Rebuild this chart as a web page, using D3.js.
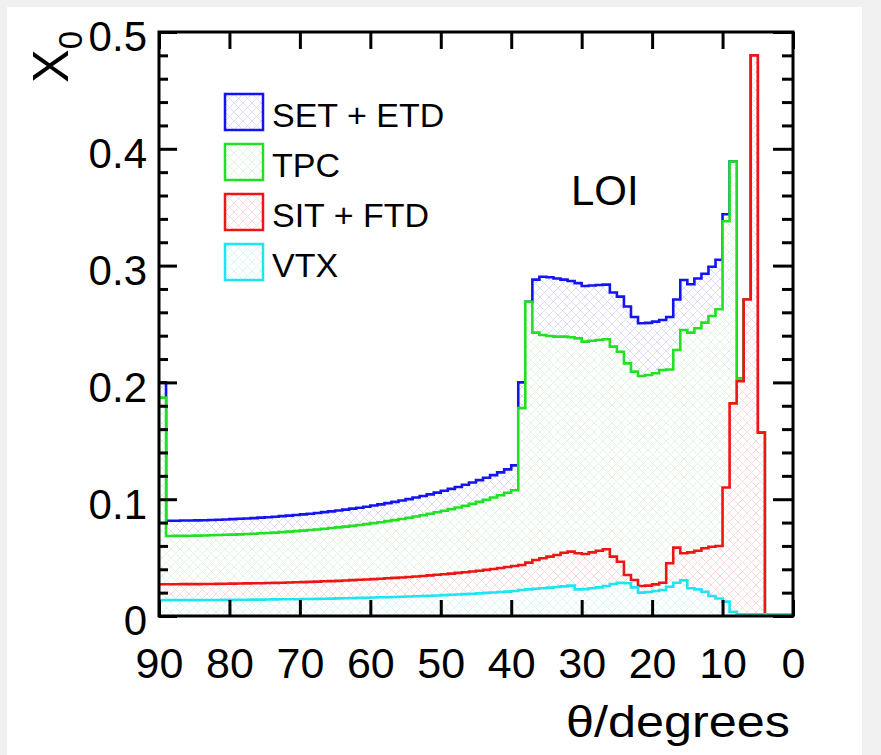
<!DOCTYPE html>
<html>
<head>
<meta charset="utf-8">
<script src="https://cdn.jsdelivr.net/npm/d3@7"></script>
<style>
  body { margin: 0; background: #f0f0f0; }
  svg { display: block; font-family: "Liberation Sans", Arial, sans-serif; }
</style>
</head>
<body>
<script>
// bins are 1 degree wide; list goes from the 89-90 bin (left) to the 0-1 bin (right)
const binLow = d3.range(89, -1, -1);

// cumulative X0 per detector group
const setEtd = [
  0.200, 0.0815, 0.0816, 0.0817, 0.0818, 0.0819, 0.0820, 0.0822, 0.0824, 0.0826,
  0.0829, 0.0832, 0.0835, 0.0838, 0.0842, 0.0846, 0.0850, 0.0855, 0.0859, 0.0865,
  0.0870, 0.0876, 0.0882, 0.0889, 0.0896, 0.0903, 0.0911, 0.0919, 0.0927, 0.0936,
  0.0946, 0.0956, 0.0966, 0.0977, 0.0989, 0.1001, 0.1014, 0.1027, 0.1041, 0.1056,
  0.1072, 0.1088, 0.1105, 0.1124, 0.1143, 0.1163, 0.1184, 0.1206, 0.1230, 0.1255,
  0.129, 0.200, 0.269, 0.288, 0.2905, 0.290, 0.289, 0.288, 0.2868, 0.285,
  0.2825, 0.283, 0.2834, 0.2837, 0.277, 0.2734, 0.265, 0.256, 0.2506, 0.251,
  0.252, 0.2534, 0.256, 0.271, 0.2877, 0.284, 0.289, 0.293, 0.299, 0.305,
  0.344, 0.389, 0.203, 0.271, 0.480, 0.157, 0.0015, 0.0015, 0.0015, 0.0015
];
const tpc = [
  0.187, 0.0685, 0.0686, 0.0686, 0.0687, 0.0688, 0.0689, 0.0691, 0.0693, 0.0695,
  0.0697, 0.0699, 0.0702, 0.0704, 0.0708, 0.0711, 0.0714, 0.0718, 0.0722, 0.0727,
  0.0731, 0.0736, 0.0741, 0.0747, 0.0753, 0.0759, 0.0765, 0.0772, 0.0779, 0.0787,
  0.0795, 0.0803, 0.0812, 0.0821, 0.0831, 0.0841, 0.0852, 0.0863, 0.0875, 0.0888,
  0.0901, 0.0915, 0.0929, 0.0944, 0.0960, 0.0977, 0.0995, 0.1014, 0.1034, 0.1055,
  0.1077, 0.178, 0.269, 0.2426, 0.2406, 0.2397, 0.2392, 0.2392, 0.2386, 0.2377,
  0.2349, 0.2357, 0.2363, 0.2369, 0.2306, 0.2263, 0.2163, 0.2092, 0.2055, 0.2063,
  0.2078, 0.2106, 0.211, 0.2277, 0.2449, 0.2426, 0.2463, 0.2512, 0.2568, 0.2626,
  0.338, 0.389, 0.203, 0.271, 0.480, 0.157, 0.0015, 0.0015, 0.0015, 0.0015
];
const sitFtd = [
  0.0272, 0.0272, 0.0272, 0.0273, 0.0273, 0.0273, 0.0274, 0.0274, 0.0275, 0.0276,
  0.0277, 0.0278, 0.0279, 0.0280, 0.0281, 0.0282, 0.0284, 0.0285, 0.0287, 0.0289,
  0.0290, 0.0292, 0.0294, 0.0297, 0.0299, 0.0301, 0.0304, 0.0307, 0.0310, 0.0313,
  0.0316, 0.0319, 0.0323, 0.0326, 0.0330, 0.0334, 0.0338, 0.0343, 0.0348, 0.0353,
  0.0358, 0.0363, 0.0369, 0.0375, 0.0381, 0.0388, 0.0395, 0.0403, 0.0411, 0.0419,
  0.0428, 0.0437, 0.0457, 0.048, 0.0494, 0.0508, 0.0522, 0.0542, 0.0551, 0.0537,
  0.0531, 0.0545, 0.0559, 0.0571, 0.0508, 0.0465, 0.0351, 0.0308, 0.0257, 0.026,
  0.0271, 0.0285, 0.0451, 0.0585, 0.0537, 0.0545, 0.0559, 0.058, 0.0593, 0.0599,
  0.110, 0.182, 0.201, 0.271, 0.480, 0.157, 0.0015, 0.0015, 0.0015, 0.0015
];
const vtx = [
  0.0136, 0.0136, 0.0136, 0.0136, 0.0136, 0.0136, 0.0137, 0.0137, 0.0137, 0.0138,
  0.0138, 0.0139, 0.0139, 0.0140, 0.0140, 0.0141, 0.0142, 0.0143, 0.0143, 0.0144,
  0.0145, 0.0146, 0.0147, 0.0148, 0.0149, 0.0151, 0.0152, 0.0153, 0.0155, 0.0156,
  0.0158, 0.0160, 0.0161, 0.0163, 0.0165, 0.0167, 0.0169, 0.0171, 0.0174, 0.0176,
  0.0179, 0.0182, 0.0184, 0.0187, 0.0191, 0.0194, 0.0198, 0.0201, 0.0205, 0.0209,
  0.0214, 0.0222, 0.0228, 0.0233, 0.0238, 0.0243, 0.0248, 0.0254, 0.0260, 0.0228,
  0.0230, 0.0237, 0.0245, 0.0257, 0.0274, 0.0285, 0.0280, 0.0245, 0.0200, 0.0205,
  0.0214, 0.0223, 0.0250, 0.0285, 0.0305, 0.0237, 0.0228, 0.0208, 0.0171, 0.0150,
  0.0123, 0.0037, 0.0015, 0.0015, 0.0015, 0.0015, 0.0015, 0.0015, 0.0015, 0.0015
];

const legendNames = ["SET + ETD", "TPC", "SIT + FTD", "VTX"];
const xTicks = [90, 80, 70, 60, 50, 40, 30, 20, 10, 0];
const yTicks = [0, 0.1, 0.2, 0.3, 0.4, 0.5];
const yMinor = [0.02, 0.04, 0.06, 0.08, 0.12, 0.14, 0.16, 0.18, 0.22, 0.24, 0.26, 0.28,
                0.32, 0.34, 0.36, 0.38, 0.42, 0.44, 0.46, 0.48];

// drawing order: total first, then each lower layer painted over it
const series = [
  {name: legendNames[0], values: setEtd, line: "#1414f0", hatch: "#d9d9f8", id: "hb"},
  {name: legendNames[1], values: tpc,    line: "#22e022", hatch: "#dcf4dc", id: "hg"},
  {name: legendNames[2], values: sitFtd, line: "#ee1515", hatch: "#f9d6d6", id: "hr"},
  {name: legendNames[3], values: vtx,    line: "#1ee6f0", hatch: "#d2f5f8", id: "hc"}
];

const W = 881, H = 755;
const pLeft = 159, pRight = 793, pTop = 32, pBottom = 616;

const svg = d3.select("body").append("svg")
  .attr("width", W).attr("height", H);

// light screenshot edge
svg.append("rect").attr("x", 7).attr("y", 7).attr("width", 855).attr("height", H - 7)
  .attr("fill", "white");

const x = d3.scaleLinear().domain([90, 0]).range([pLeft, pRight]);
const y = d3.scaleLinear().domain([0, 0.5]).range([pBottom, pTop]);

// crosshatch fills
const defs = svg.append("defs");
series.forEach(s => {
  let p = defs.append("pattern").attr("id", s.id)
    .attr("width", 9).attr("height", 9).attr("patternUnits", "userSpaceOnUse");
  p.append("rect").attr("width", 9).attr("height", 9).attr("fill", "white");
  p.append("path").attr("d", "M0,0L9,9M9,0L0,9")
    .attr("stroke", s.hatch).attr("stroke-width", 0.9).attr("fill", "none");
});
defs.append("clipPath").attr("id", "plotclip").append("rect")
  .attr("x", pLeft).attr("y", pTop).attr("width", pRight - pLeft).attr("height", pBottom - pTop);

function stepPoints(values) {
  let pts = [];
  values.forEach((v, i) => {
    pts.push([binLow[i] + 1, v]);
    pts.push([binLow[i], v]);
  });
  return pts;
}

const area = d3.area().x(d => x(d[0])).y0(y(0)).y1(d => y(d[1]));
const line = d3.line().x(d => x(d[0])).y(d => y(d[1]));

const plot = svg.append("g").attr("clip-path", "url(#plotclip)");
series.forEach(s => {
  let pts = stepPoints(s.values);
  plot.append("path").attr("d", area(pts)).attr("fill", "url(#" + s.id + ")");
  plot.append("path").attr("d", line(pts))
    .attr("fill", "none").attr("stroke", s.line).attr("stroke-width", 2.6)
    .attr("stroke-linejoin", "miter");
});

// axes, ticks pointing into the frame
function styleAxis(g) {
  g.select(".domain").remove();
  g.selectAll(".tick line").attr("stroke", "black").attr("stroke-width", 3);
}

svg.append("g").attr("transform", "translate(0," + pBottom + ")")
  .call(d3.axisBottom(x).tickValues(xTicks).tickSize(-16).tickPadding(31).tickFormat(d3.format("d")))
  .call(styleAxis)
  .selectAll("text").attr("font-size", 43).attr("fill", "black")
  .attr("font-family", "Liberation Sans, Arial, sans-serif");

svg.append("g").attr("transform", "translate(0," + pTop + ")")
  .call(d3.axisTop(x).tickValues(xTicks).tickSize(-17).tickFormat(""))
  .call(styleAxis);

svg.append("g").attr("transform", "translate(" + pLeft + ",0)")
  .call(d3.axisLeft(y).tickValues(yTicks).tickSize(-18).tickPadding(12)
    .tickFormat(d => d === 0 ? "0" : d3.format(".1f")(d)))
  .call(styleAxis)
  .selectAll("text").attr("font-size", 42).attr("fill", "black").attr("dy", "0.45em")
  .attr("font-family", "Liberation Sans, Arial, sans-serif");

svg.append("g").attr("transform", "translate(" + pLeft + ",0)")
  .call(d3.axisLeft(y).tickValues(yMinor).tickSize(-9).tickFormat(""))
  .call(styleAxis);

svg.append("g").attr("transform", "translate(" + pRight + ",0)")
  .call(d3.axisRight(y).tickValues(yTicks).tickSize(-20).tickFormat(""))
  .call(styleAxis);

svg.append("g").attr("transform", "translate(" + pRight + ",0)")
  .call(d3.axisRight(y).tickValues(yMinor).tickSize(-11).tickFormat(""))
  .call(styleAxis);

// frame
svg.append("rect").attr("x", pLeft).attr("y", pTop)
  .attr("width", pRight - pLeft).attr("height", pBottom - pTop)
  .attr("fill", "none").attr("stroke", "black").attr("stroke-width", 3);

// axis titles
svg.append("text").attr("x", 790).attr("y", 737)
  .attr("text-anchor", "end").attr("font-size", 44)
  .attr("textLength", 224).attr("lengthAdjust", "spacingAndGlyphs")
  .text("θ/degrees");

let yt = svg.append("text").attr("transform", "translate(68,31) rotate(-90)")
  .attr("text-anchor", "end").attr("font-size", 50);
yt.append("tspan").text("X");
yt.append("tspan").attr("dy", 14).attr("font-size", 33).text("0");

// label in the plot
svg.append("text").attr("x", 571).attr("y", 205).attr("font-size", 42).text("LOI");

// legend
const legend = svg.append("g");
series.forEach((s, i) => {
  let row = legend.append("g").attr("transform", "translate(225," + (94 + i * 50) + ")");
  row.append("rect").attr("width", 38).attr("height", 36)
    .attr("fill", "url(#" + s.id + ")").attr("stroke", s.line).attr("stroke-width", 2.5);
  row.append("text").attr("x", 47).attr("y", 33).attr("font-size", 34).text(s.name);
});
</script>
</body>
</html>
